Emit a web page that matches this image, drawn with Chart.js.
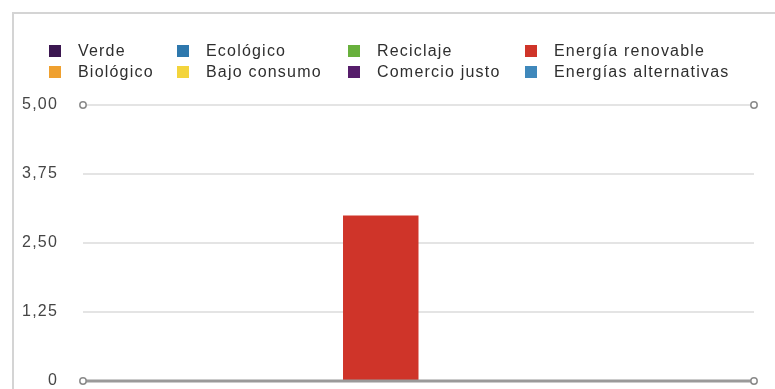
<!DOCTYPE html>
<html>
<head>
<meta charset="utf-8">
<script src="https://cdn.jsdelivr.net/npm/chart.js@4/dist/chart.umd.min.js"></script>
<style>
  html, body { margin: 0; padding: 0; background: #fff; overflow: hidden; }
  #wrap { position: relative; width: 775px; height: 389px; overflow: hidden; }
  .rule { position: absolute; background: #d4d4d4; }
  #ruleTop { left: 12px; top: 12px; width: 763px; height: 2px; }
  #ruleLeft { left: 12px; top: 12px; width: 2px; height: 377px; }
  #chart { position: absolute; left: 0; top: 0; width: 775px; height: 389px; }
  #legend { position: absolute; left: 49px; top: 43px; display: grid;
            grid-template-columns: 128px 171px 177px 200px; row-gap: 5px;
            font-family: "Liberation Sans", Arial, sans-serif; font-size: 16px;
            letter-spacing: 1.2px; color: #2e2e2e; }
  .item { display: flex; align-items: center; height: 16px; white-space: nowrap; }
  .box { width: 12px; height: 12px; margin-right: 17px; flex: none; }
</style>
</head>
<body>
<div id="wrap">
  <div class="rule" id="ruleTop"></div>
  <div class="rule" id="ruleLeft"></div>
  <canvas id="chart" width="775" height="389"></canvas>
  <div id="legend"></div>
</div>
<script>
// Survey answers: one category, one dataset per label
const categories = [''];
const seriesLabels = ['Verde', 'Ecológico', 'Reciclaje', 'Energía renovable',
                      'Biológico', 'Bajo consumo', 'Comercio justo', 'Energías alternativas'];
const seriesColors = ['#3b1750', '#2e78ad', '#68b03c', '#cf3429',
                      '#efa02f', '#f3d43c', '#561d6b', '#3f88bb'];
const seriesValues = [0, 0, 0, 3, 0, 0, 0, 0];
const yTicks = [0, 1.25, 2.5, 3.75, 5];

const datasets = seriesLabels.map((label, i) => ({
  label,
  data: [seriesValues[i]],
  backgroundColor: seriesColors[i],
  borderWidth: 0
}));

function fmt(v) {
  return v === 0 ? '0' : v.toFixed(2).replace('.', ',');
}

// Base line drawn over the bars, plus small open circles at both ends
// of the top grid line and of the base line
const axisDecor = {
  id: 'axisDecor',
  afterDatasetsDraw(chart) {
    const { ctx, chartArea, scales } = chart;
    const yTop = scales.y.getPixelForValue(yTicks[yTicks.length - 1]);
    const yBase = scales.y.getPixelForValue(0);
    ctx.save();
    ctx.strokeStyle = '#9a9a9a';
    ctx.lineWidth = 3;
    ctx.beginPath();
    ctx.moveTo(chartArea.left, yBase);
    ctx.lineTo(chartArea.right, yBase);
    ctx.stroke();
    ctx.lineWidth = 1.5;
    ctx.strokeStyle = '#8a8a8a';
    ctx.fillStyle = '#fff';
    [yTop, yBase].forEach(y => {
      [chartArea.left, chartArea.right].forEach(x => {
        ctx.beginPath();
        ctx.arc(x, y, 3.2, 0, Math.PI * 2);
        ctx.fill();
        ctx.stroke();
      });
    });
    ctx.restore();
  }
};

const spacing = {
  id: 'spacing',
  beforeDraw(chart) { chart.ctx.letterSpacing = '1.2px'; }
};

const chart = new Chart(document.getElementById('chart'), {
  type: 'bar',
  data: { labels: categories, datasets },
  options: {
    responsive: false,
    maintainAspectRatio: false,
    animation: false,
    layout: { padding: { left: 0, right: 21, top: 105, bottom: 8 } },
    datasets: { bar: { barPercentage: 1, categoryPercentage: 0.9 } },
    plugins: { legend: { display: false }, tooltip: { enabled: false } },
    scales: {
      x: { display: false },
      y: {
        min: 0, max: 5,
        afterBuildTicks(scale) { scale.ticks = yTicks.map(v => ({ value: v })); },
        afterFit(scale) {
          scale.width = 83;
          // the label gap sits to the left, so it should not pad the plot vertically
          scale.paddingTop = 0;
          scale.paddingBottom = 0;
        },
        border: { display: false },
        grid: {
          drawTicks: false,
          color: c => c.tick.value === 0 ? 'rgba(0,0,0,0)' : '#e4e4e4',
          lineWidth: 2
        },
        ticks: {
          padding: 25,
          color: '#454545',
          font: { family: '"Liberation Sans", Arial, sans-serif', size: 16 },
          callback: v => fmt(v)
        }
      }
    }
  },
  plugins: [spacing, axisDecor]
});

// Legend in four columns, built from the chart's datasets
const legend = document.getElementById('legend');
chart.data.datasets.forEach(ds => {
  const item = document.createElement('div');
  item.className = 'item';
  const box = document.createElement('span');
  box.className = 'box';
  box.style.background = ds.backgroundColor;
  const txt = document.createElement('span');
  txt.textContent = ds.label;
  item.appendChild(box);
  item.appendChild(txt);
  legend.appendChild(item);
});
</script>
</body>
</html>
